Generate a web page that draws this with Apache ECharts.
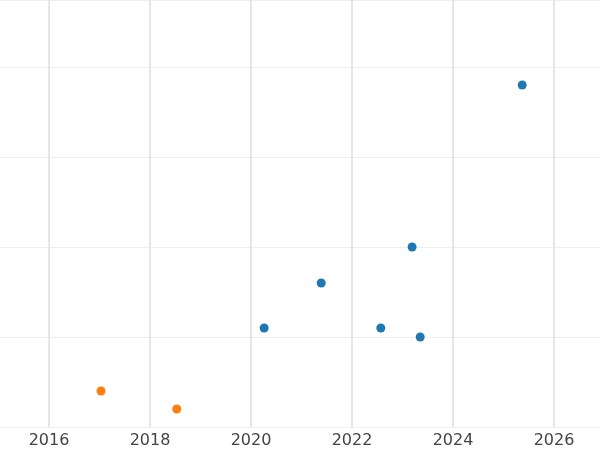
<!DOCTYPE html>
<html>
<head>
<meta charset="utf-8">
<script src="https://cdn.jsdelivr.net/npm/echarts@6/dist/echarts.min.js"></script>
<style>html,body{margin:0;padding:0;background:#fff}#c{width:600px;height:450px}</style>
</head>
<body>
<div id="c"></div>
<script>
// blue group
var blueX = [2020.26, 2021.39, 2022.57, 2023.19, 2023.35, 2025.37];
var blueY = [1.1, 1.6, 1.1, 2.0, 1.0, 3.8];
// orange group
var orangeX = [2017.03, 2018.53];
var orangeY = [0.4, 0.2];
var yearTicks = [2016, 2018, 2020, 2022, 2024, 2026];

function pairs(xs, ys) {
  var out = [];
  for (var i = 0; i < xs.length; i++) out.push([xs[i], ys[i]]);
  return out;
}

var chart = echarts.init(document.getElementById('c'));
chart.setOption({
  animation: false,
  grid: { left: 0, right: 0, top: 0, bottom: 23 },
  xAxis: {
    type: 'value', min: 2015.03, max: 2026.91,
    axisLine: { show: false },
    axisTick: { show: false, customValues: yearTicks },
    axisLabel: { customValues: yearTicks, formatter: function (v) { return String(v); },
      color: '#444', fontSize: 16, fontFamily: 'DejaVu Sans', margin: 6 },
    splitLine: { show: false }
  },
  yAxis: {
    type: 'value', min: 0, max: 4.744, interval: 1,
    axisLine: { show: false }, axisTick: { show: false },
    axisLabel: { show: false },
    splitLine: { lineStyle: { color: '#eeeeee', width: 1 } }
  },
  series: [
    { type: 'scatter', symbolSize: 9, itemStyle: { color: '#1f77b4', opacity: 1 }, data: pairs(blueX, blueY),
      markLine: { silent: true, symbol: 'none', label: { show: false },
        lineStyle: { color: '#e6e6e6', width: 2, type: 'solid' },
        data: yearTicks.map(function (y) { return { xAxis: y }; }) }, z: 3 },
    { type: 'scatter', symbolSize: 9, itemStyle: { color: '#ff7f0e', opacity: 1 }, data: pairs(orangeX, orangeY), z: 3 }
  ]
});
</script>
</body>
</html>
